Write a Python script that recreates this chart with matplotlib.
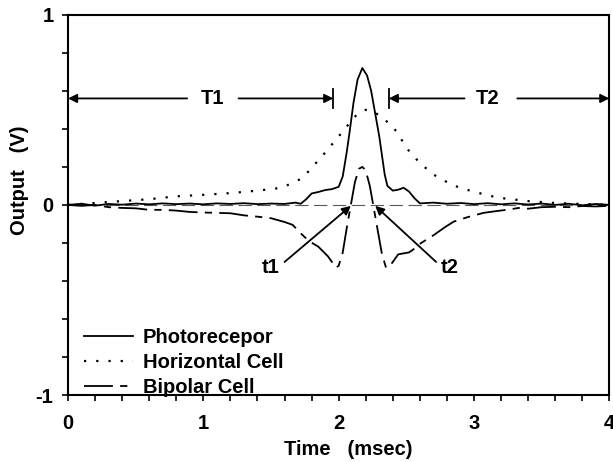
import matplotlib
matplotlib.use("Agg")
import matplotlib.pyplot as plt

plt.rcParams['font.family'] = ['Liberation Sans', 'DejaVu Sans']
plt.rcParams['font.weight'] = 'bold'
plt.rcParams['axes.unicode_minus'] = False

# Photoreceptor (solid)
photo_x = [0.0, 0.1, 0.2, 0.3, 0.4, 0.5, 0.6, 0.7, 0.8, 0.9, 1.0, 1.1, 1.2, 1.3, 1.4,
           1.5, 1.6, 1.68, 1.72, 1.76, 1.8, 1.85, 1.9, 1.95, 2.0, 2.03, 2.06, 2.08,
           2.11, 2.14, 2.175, 2.21, 2.24, 2.26, 2.28, 2.30, 2.32, 2.34, 2.36, 2.40,
           2.44, 2.48, 2.52, 2.56, 2.60, 2.7, 2.8, 2.9, 3.0, 3.1, 3.2, 3.3, 3.4, 3.5,
           3.6, 3.7, 3.8, 3.9, 4.0]
photo_y = [0.0, 0.006, -0.004, 0.005, 0.001, 0.007, 0.003, 0.008, 0.004, 0.007, 0.003,
           0.008, 0.005, 0.009, 0.004, 0.007, 0.005, 0.012, 0.006, 0.03, 0.06, 0.068,
           0.078, 0.083, 0.095, 0.15, 0.28, 0.38, 0.54, 0.66, 0.72, 0.68, 0.6, 0.52,
           0.44, 0.36, 0.26, 0.16, 0.1, 0.075, 0.08, 0.09, 0.07, 0.035, 0.008, 0.012,
           0.006, 0.01, 0.004, 0.009, 0.003, 0.008, 0.002, 0.007, 0.0, 0.006, -0.002,
           0.005, 0.0]

# Horizontal cell (dotted)
horiz_x = [0.0, 0.2, 0.4, 0.6, 0.8, 1.0, 1.2, 1.4, 1.58, 1.73, 1.87, 2.0, 2.08, 2.14,
           2.2, 2.26, 2.34, 2.43, 2.5, 2.6, 2.7, 2.8, 2.9, 3.0, 3.1, 3.2, 3.4, 3.6,
           3.8, 4.0]
horiz_y = [0.0, 0.01, 0.02, 0.03, 0.045, 0.053, 0.062, 0.075, 0.09, 0.14, 0.25, 0.36,
           0.43, 0.48, 0.5, 0.49, 0.45, 0.385, 0.3, 0.22, 0.16, 0.12, 0.088, 0.07,
           0.05, 0.036, 0.02, 0.01, 0.005, 0.0]

# Bipolar cell (dashed)
bip_x = [0.0, 0.1, 0.2, 0.3, 0.4, 0.5, 0.6, 0.7, 0.8, 0.9, 1.0, 1.1, 1.2, 1.3, 1.4,
         1.5, 1.6, 1.66, 1.72, 1.78, 1.85, 1.92, 1.96, 1.98, 2.0, 2.03, 2.06, 2.09,
         2.12, 2.15, 2.175, 2.2, 2.23, 2.26, 2.29, 2.32, 2.35, 2.38, 2.41, 2.44, 2.48,
         2.52, 2.56, 2.61, 2.7, 2.79, 2.85, 2.95, 3.07, 3.14, 3.25, 3.33, 3.4, 3.5,
         3.6, 3.7, 3.8, 3.9, 4.0]
bip_y = [0.0, -0.005, 0.0, -0.012, -0.016, -0.018, -0.026, -0.026, -0.03, -0.037,
         -0.04, -0.042, -0.044, -0.055, -0.062, -0.07, -0.09, -0.105, -0.15, -0.19,
         -0.22, -0.27, -0.31, -0.33, -0.32, -0.25, -0.12, 0.0, 0.12, 0.19, 0.2, 0.18,
         0.1, -0.02, -0.14, -0.26, -0.33, -0.32, -0.29, -0.26, -0.255, -0.25, -0.23,
         -0.2, -0.16, -0.115, -0.088, -0.065, -0.042, -0.035, -0.025, -0.016, -0.02,
         -0.012, -0.01, -0.012, -0.006, -0.008, -0.005]

fs = 14.5

fig = plt.figure(figsize=(6.13, 4.62), dpi=100)
ax = fig.add_axes([0.111, 0.145, 0.883, 0.823])

ax.axhline(0, color='0.35', lw=0.8, dashes=(12, 5), zorder=1)
ax.plot(photo_x, photo_y, color='black', lw=1.3, label='Photorecepor')
ax.plot(horiz_x, horiz_y, color='black', lw=1.6, dashes=(1, 4.5), label='Horizontal Cell')
ax.plot(bip_x, bip_y, color='black', lw=1.3, dashes=(16, 4, 4, 4), label='Bipolar Cell')

ax.set_xlim(0, 4)
ax.set_ylim(-1, 1)
ax.set_xticks([0, 1, 2, 3, 4])
ax.set_yticks([-1, 0, 1])
ax.set_xticks([i * 0.2 for i in range(21)], minor=True)
ax.set_yticks([-1 + i * 0.2 for i in range(11)], minor=True)
ax.tick_params(which='both', direction='out', length=4.5, width=1.2, labelsize=fs)
ax.tick_params(axis='x', pad=9.5)
ax.tick_params(axis='y', pad=6)
for s in ax.spines.values():
    s.set_linewidth(1.5)

ax.set_xlabel('Time   (msec)', fontsize=fs, fontweight='bold', va='top')
ax.xaxis.set_label_coords(0.518, -0.118)
ax.set_ylabel('Output   (V)', fontsize=fs, fontweight='bold')
ax.yaxis.set_label_coords(-0.072, 0.566)

# T1 / T2 interval arrows
ay = 0.56
ap = dict(arrowstyle='-|>', color='black', lw=1.3, mutation_scale=13, shrinkA=0, shrinkB=0)
ax.annotate('', xy=(0.0, ay), xytext=(0.88, ay), arrowprops=ap)
ax.annotate('', xy=(1.96, ay), xytext=(1.26, ay), arrowprops=ap)
ax.plot([1.96, 1.96], [0.51, 0.61], color='black', lw=1.3)
ax.text(1.07, ay, 'T1', fontsize=fs, fontweight='bold', ha='center', va='center')
ax.annotate('', xy=(2.37, ay), xytext=(2.93, ay), arrowprops=ap)
ax.annotate('', xy=(4.0, ay), xytext=(3.32, ay), arrowprops=ap)
ax.plot([2.37, 2.37], [0.51, 0.61], color='black', lw=1.3)
ax.text(3.1, ay, 'T2', fontsize=fs, fontweight='bold', ha='center', va='center')

# t1 / t2 arrows
ax.annotate('', xy=(2.09, -0.005), xytext=(1.6, -0.3), arrowprops=ap)
ax.text(1.5, -0.33, 't1', fontsize=fs, fontweight='bold', ha='center', va='center')
ax.annotate('', xy=(2.27, -0.005), xytext=(2.72, -0.3), arrowprops=ap)
ax.text(2.82, -0.33, 't2', fontsize=fs, fontweight='bold', ha='center', va='center')

ax.legend(loc='lower left', bbox_to_anchor=(0.015, -0.027), frameon=False, fontsize=fs,
          handlelength=2.4, handletextpad=0.5, labelspacing=0.3, borderaxespad=0)

fig.savefig('out.png', dpi=100)
